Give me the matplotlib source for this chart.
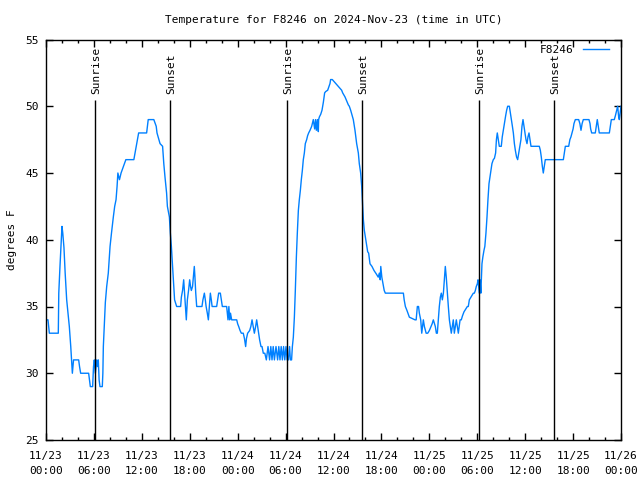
import matplotlib
matplotlib.use('Agg')
import matplotlib.pyplot as plt

# hours since 11/23 00:00 UTC and temperature (F)
hours = [0.0, 0.25, 0.42, 1.54, 1.6, 1.75, 1.92, 2.0, 2.1, 2.25, 2.4, 2.59, 2.75, 2.92, 3.1, 3.26,
         3.3, 3.45, 4.09, 4.2, 4.34, 5.34, 5.45, 5.55, 5.84, 5.95, 6.05, 6.18, 6.35, 6.45, 6.55,
         6.65, 6.76, 7.05, 7.12, 7.18, 7.43, 7.6, 7.8, 8.02, 8.2, 8.43, 8.6, 8.77, 8.9, 9.0, 9.2,
         9.4, 9.7, 10.0, 11.0, 11.3, 11.6, 12.6, 12.8, 13.5, 13.8, 13.9, 14.28, 14.6, 14.75, 14.9,
         15.1, 15.2, 15.45, 15.57, 15.7, 15.8, 15.9, 16.0, 16.1, 16.36, 16.86, 16.95, 17.1, 17.24,
         17.35, 17.45, 17.57, 17.7, 17.85, 17.99, 18.1, 18.2, 18.35, 18.5, 18.57, 18.65, 18.75,
         18.87, 19.53, 19.65, 19.83, 19.95, 20.05, 20.2, 20.33, 20.45, 20.58, 20.7, 20.8, 21.37,
         21.5, 21.62, 21.83, 21.95, 22.08, 22.62, 22.7, 22.79, 22.9, 23.0, 23.1, 23.25, 23.88,
         24.0, 24.13, 24.3, 24.46, 24.7, 24.85, 25.0, 25.1, 25.25, 25.5, 25.65, 25.8, 25.95, 26.09,
         26.25, 26.38, 26.5, 26.63, 26.75, 26.92, 27.05, 27.21, 27.4, 27.59, 27.8, 28.0, 28.15,
         28.3, 28.45, 28.6, 28.8, 29.0, 29.15, 29.3, 29.45, 29.6, 29.75, 29.9, 30.05, 30.2, 30.35,
         30.5, 30.6, 30.75, 30.85, 30.97, 31.1, 31.22, 31.35, 31.47, 31.6, 31.72, 31.85, 31.97,
         32.1, 32.22, 32.35, 32.47, 32.64, 32.76, 32.89, 33.06, 33.27, 33.47, 33.64, 33.75, 33.85,
         33.98, 34.1, 34.14, 34.23, 34.4, 34.56, 34.73, 34.89, 35.02, 35.27, 35.56, 35.64, 35.85,
         37.02, 37.15, 37.44, 37.86, 37.98, 38.15, 38.48, 38.69, 38.9, 39.11, 39.23, 39.4, 39.53,
         39.61, 39.74, 39.86, 39.99, 40.11, 40.28, 40.4, 40.57, 40.82, 41.07, 41.4, 41.6, 41.74,
         41.85, 41.92, 42.05, 42.2, 42.35, 42.49, 44.75, 44.85, 45.0, 45.2, 45.5, 46.21, 46.35,
         46.5, 46.65, 46.75, 46.92, 47.05, 47.15, 47.25, 47.38, 47.6, 47.8, 48.0, 48.21, 48.35,
         48.5, 48.75, 48.88, 49.0, 49.12, 49.25, 49.38, 49.5, 49.63, 49.76, 49.88, 50.0, 50.12,
         50.26, 50.38, 50.51, 50.63, 50.75, 50.88, 51.0, 51.13, 51.25, 51.38, 51.5, 51.63, 51.85,
         52.0, 52.15, 52.34, 52.76, 52.88, 53.01, 53.51, 53.64, 53.76, 53.88, 54.01, 54.1, 54.18,
         54.26, 54.35, 54.45, 54.59, 54.7, 54.84, 54.95, 55.09, 55.22, 55.34, 55.47, 55.59, 55.72,
         55.84, 56.01, 56.15, 56.3, 56.4, 56.51, 56.63, 56.76, 57.01, 57.13, 57.26, 57.4, 57.56,
         57.68, 57.81, 58.02, 58.15, 58.27, 58.4, 58.52, 58.65, 58.77, 58.92, 59.06, 59.2, 59.35,
         59.47, 59.6, 59.73, 59.85, 59.98, 60.1, 60.23, 60.35, 60.48, 60.6, 60.73, 61.77, 61.9,
         62.02, 62.15, 62.27, 62.4, 62.52, 64.78, 64.9, 65.03, 65.45, 65.6, 65.73, 65.86, 66.0,
         66.11, 66.28, 66.7, 66.85, 66.99, 67.13, 67.28, 67.99, 68.12, 68.2, 68.33, 68.78, 68.9,
         69.03, 69.15, 69.28, 70.54, 70.66, 70.79, 71.16, 71.3, 71.46, 71.58, 71.71, 71.79, 72.0]
temps = [34.0, 34.0, 33.0, 33.0, 36.0, 38.0, 40.0, 41.0, 40.5, 39.4, 37.5, 35.5, 34.5, 33.5, 32.0, 30.5,
         30.0, 31.0, 31.0, 30.5, 30.0, 30.0, 29.5, 29.0, 29.0, 30.5, 31.0, 30.0, 31.0, 30.5, 31.0,
         29.5, 29.0, 29.0, 30.0, 32.0, 35.3, 36.5, 37.5, 39.5, 40.5, 41.7, 42.5, 43.0, 44.0, 45.0, 44.5,
         45.0, 45.5, 46.0, 46.0, 47.0, 48.0, 48.0, 49.0, 49.0, 48.5, 48.0, 47.2, 47.0, 45.7, 44.7,
         43.5, 42.5, 41.7, 40.5, 39.5, 38.5, 37.5, 36.5, 35.5, 35.0, 35.0, 35.7, 36.2, 37.0,
         36.0, 35.0, 34.0, 35.5, 36.2, 37.0, 36.5, 36.2, 36.5, 37.5, 38.0, 37.2, 36.0,
         35.0, 35.0, 35.5, 36.0, 35.5, 35.0, 34.5, 34.0, 35.0, 36.0, 35.5, 35.0, 35.0,
         35.5, 36.0, 36.0, 35.5, 35.0, 35.0, 34.5, 34.0, 35.0, 34.0, 34.5, 34.0, 34.0,
         33.7, 33.5, 33.2, 33.0, 33.0, 32.6, 32.0, 32.6, 33.0, 33.2, 33.5, 34.0, 33.5, 33.0,
         33.5, 34.0, 33.5, 33.0, 32.5, 32.0, 32.0, 31.5, 31.5, 31.0, 32.0, 31.0, 32.0,
         31.0, 32.0, 31.0, 32.0, 31.0, 32.0, 31.0, 32.0, 31.0, 32.0, 31.0, 32.0, 31.0,
         31.0, 32.0, 31.0, 31.0, 32.0, 32.7, 34.2, 36.2, 38.7, 40.5, 42.2, 43.0, 43.7,
         44.5, 45.2, 46.0, 46.5, 47.2, 47.5, 47.8, 48.0, 48.2, 48.5, 49.0, 48.3, 49.0,
         48.2, 49.0, 48.1, 49.0, 49.2, 49.4, 49.7, 50.3, 51.0, 51.1, 51.2, 51.7, 52.0,
         52.0, 51.2, 51.0, 50.7, 50.1, 50.0, 49.7, 49.0, 48.2, 47.2, 46.5, 45.7, 45.0,
         44.0, 43.0, 41.5, 40.7, 40.2, 39.7, 39.1, 39.0, 38.2, 38.0, 37.7, 37.4, 37.2,
         37.5, 37.0, 38.0, 37.2, 36.7, 36.2, 36.0, 36.0, 35.5, 35.0, 34.7, 34.2, 34.0, 34.0, 35.0,
         35.0, 34.5, 34.0, 33.0, 33.5, 34.0, 33.5, 33.0, 33.0, 33.2, 33.5, 33.7, 34.0, 33.5,
         33.0, 33.0, 34.0, 35.0, 35.7, 36.0, 35.5, 36.0, 37.0, 38.0, 37.2, 36.0, 35.0,
         34.0, 33.5, 33.0, 33.5, 34.0, 33.0, 33.5, 34.0, 33.5, 33.0, 34.0, 34.0,
         34.3, 34.6, 35.0, 35.0, 35.5, 36.0, 36.0, 36.2, 36.5, 36.7, 37.0, 36.5, 36.0,
         37.0, 36.0, 38.2, 38.7, 39.2, 39.5, 40.5, 41.7, 43.0, 44.2, 44.7, 45.2, 45.7,
         46.0, 46.1, 46.5, 47.5, 48.0, 47.5, 47.0, 47.0, 47.7, 48.2, 48.7, 49.3,
         49.7, 50.0, 50.0, 49.5, 49.0, 48.5, 48.0, 47.2, 46.7, 46.2, 46.0, 46.5, 47.0,
         47.5, 48.5, 49.0, 48.5, 48.0, 47.5, 47.2, 47.7, 48.0, 47.5, 47.0, 47.0, 46.7,
         46.2, 45.5, 45.0, 45.5, 46.0, 46.0, 46.5, 47.0, 47.0, 47.5, 47.7, 48.0, 48.3,
         48.7, 49.0, 49.0, 48.7, 48.2, 48.7, 49.0, 49.0, 48.7, 48.3, 48.0, 48.0, 48.5,
         49.0, 48.5, 48.0, 48.0, 48.5, 49.0, 49.0, 49.3, 49.7, 50.0, 49.2, 49.0, 50.0]

sun_hours = [6.17, 15.56, 30.21, 39.63, 54.26, 63.65]
sun_labels = ['Sunrise', 'Sunset', 'Sunrise', 'Sunset', 'Sunrise', 'Sunset']

tick_hours = list(range(0, 73, 6))
tick_labels = ['11/23\n00:00', '11/23\n06:00', '11/23\n12:00', '11/23\n18:00',
               '11/24\n00:00', '11/24\n06:00', '11/24\n12:00', '11/24\n18:00',
               '11/25\n00:00', '11/25\n06:00', '11/25\n12:00', '11/25\n18:00',
               '11/26\n00:00']

plt.rcParams['font.family'] = 'DejaVu Sans Mono'
plt.rcParams['font.size'] = 8

fig = plt.figure(figsize=(6.4, 4.8), dpi=100)
ax = fig.add_axes([46/640, 1 - 440/480, 575/640, 400.5/480])

ax.plot(hours, temps, color='#0080ff', lw=1, label='F8246')

for h, lab in zip(sun_hours, sun_labels):
    ax.vlines(h, 25, 50.5, color='black', lw=1)
    ax.text(h + 0.1, 50.95, lab, rotation=90, ha='center', va='bottom', fontsize=8)

ax.set_xlim(0, 72)
ax.set_ylim(25, 55)
ax.set_xticks(tick_hours)
ax.set_xticklabels(tick_labels, linespacing=1.6)
ax.set_xticks(range(0, 73, 2), minor=True)
ax.set_yticks([25, 30, 35, 40, 45, 50, 55])
ax.tick_params(which='both', direction='in', top=True, right=True)
ax.tick_params(which='major', length=5, width=1)
ax.tick_params(which='minor', length=2.5, width=1)
ax.tick_params(axis='x', pad=8)
ax.tick_params(axis='y', pad=5)
for s in ax.spines.values():
    s.set_linewidth(1)

ax.set_ylabel('degrees F', labelpad=6)
ax.set_title('Temperature for F8246 on 2024-Nov-23 (time in UTC)', fontsize=8, pad=12)
ax.legend(loc='upper right', bbox_to_anchor=(1 - 5/575, 1 + 1/400.5), markerfirst=False,
          frameon=False, handlelength=2.4, fontsize=8, borderaxespad=0.2, handletextpad=0.8)

plt.savefig('out.png', dpi=100)
